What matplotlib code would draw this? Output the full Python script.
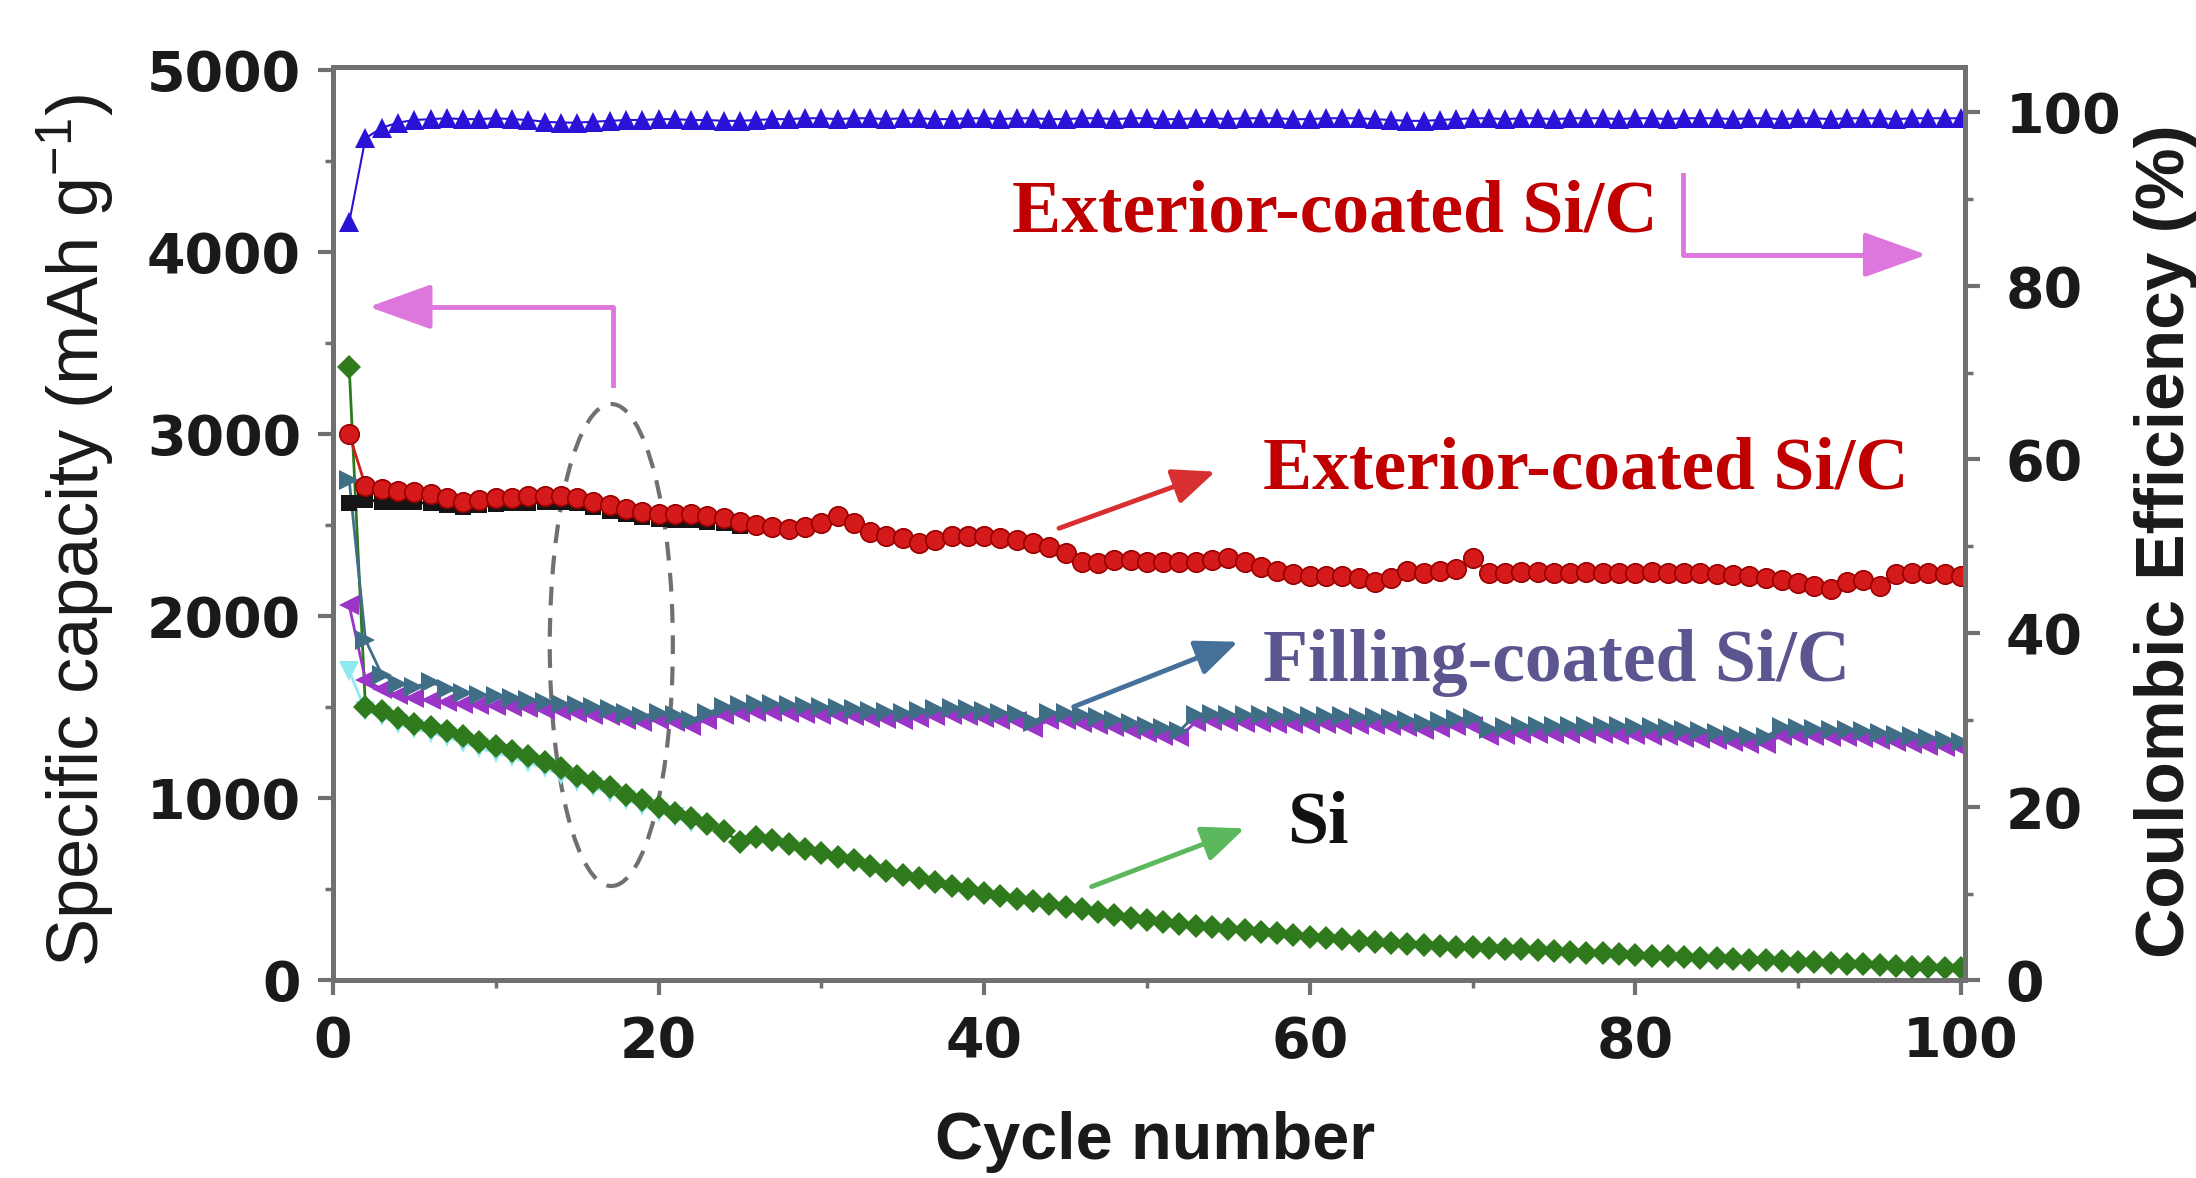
import numpy as np
import matplotlib
matplotlib.use("Agg")
from matplotlib import pyplot as plt
from matplotlib.patches import Ellipse
from matplotlib.ticker import MultipleLocator

plt.rcParams['font.family'] = 'DejaVu Sans'
plt.rcParams['mathtext.default'] = 'regular'

cycles = np.arange(1, 101)

# exterior-coated Si/C, red circles
ext_discharge = [3000, 2715, 2700, 2690, 2680, 2670, 2650, 2630, 2640, 2650,
                 2650, 2660, 2660, 2660, 2650, 2630, 2610, 2590, 2570, 2560,
                 2560, 2560, 2550, 2540, 2520, 2500, 2490, 2480, 2490, 2510,
                 2550, 2510, 2460, 2440, 2430, 2400, 2420, 2440, 2440, 2440,
                 2430, 2420, 2400, 2380, 2350, 2300, 2290, 2310, 2310, 2300,
                 2300, 2300, 2300, 2310, 2320, 2300, 2270, 2250, 2230, 2220,
                 2220, 2220, 2210, 2190, 2210, 2250, 2240, 2250, 2260, 2320,
                 2240, 2240, 2245, 2245, 2240, 2240, 2245, 2240, 2240, 2240,
                 2245, 2240, 2240, 2235, 2230, 2225, 2220, 2210, 2200, 2180,
                 2165, 2150, 2190, 2200, 2165, 2230, 2240, 2240, 2230, 2220]
# black squares, only visible over the first cycles
ext_charge = [2620, 2640, 2630, 2630, 2625, 2620, 2610, 2600, 2610, 2615,
              2620, 2620, 2625, 2625, 2620, 2600, 2580, 2560, 2545, 2535,
              2530, 2530, 2520, 2510, 2495]

# filling-coated Si/C
fill_a = [2750, 1870, 1680, 1630, 1610, 1640, 1600, 1580, 1570, 1560,
          1550, 1540, 1530, 1520, 1510, 1500, 1490, 1470, 1450, 1470,
          1460, 1430, 1470, 1500, 1515, 1520, 1520, 1510, 1505, 1500,
          1495, 1490, 1480, 1475, 1470, 1480, 1490, 1495, 1490, 1480,
          1470, 1465, 1420, 1470, 1470, 1455, 1445, 1430, 1415, 1400,
          1385, 1370, 1460, 1465, 1460, 1455, 1455, 1450, 1450, 1450,
          1450, 1450, 1448, 1448, 1440, 1430, 1415, 1425, 1435, 1440,
          1380, 1390, 1395, 1395, 1395, 1395, 1395, 1395, 1395, 1394,
          1390, 1385, 1375, 1368, 1360, 1350, 1340, 1338, 1390, 1385,
          1380, 1378, 1375, 1370, 1360, 1350, 1340, 1330, 1320, 1310]
fill_b = [2060, 1650, 1600, 1570, 1550, 1540, 1530, 1520, 1515, 1505,
          1500, 1495, 1485, 1480, 1470, 1460, 1450, 1430, 1420, 1430,
          1420, 1400, 1430, 1460, 1470, 1475, 1475, 1470, 1465, 1460,
          1455, 1450, 1440, 1435, 1430, 1440, 1450, 1455, 1450, 1440,
          1430, 1425, 1385, 1430, 1430, 1415, 1405, 1390, 1375, 1360,
          1345, 1335, 1420, 1425, 1420, 1415, 1415, 1410, 1410, 1410,
          1408, 1405, 1405, 1405, 1398, 1390, 1375, 1385, 1395, 1400,
          1345, 1350, 1355, 1355, 1355, 1355, 1352, 1352, 1350, 1350,
          1345, 1340, 1332, 1325, 1318, 1310, 1300, 1298, 1345, 1342,
          1340, 1338, 1335, 1330, 1320, 1310, 1300, 1290, 1282, 1275]

# bare Si
si_a = [3370, 1500, 1480, 1440, 1410, 1390, 1370, 1340, 1310, 1285,
        1260, 1230, 1200, 1165, 1120, 1090, 1060, 1020, 990, 950,
        920, 890, 860, 820, 760, 790, 770, 750, 720, 700,
        680, 660, 630, 600, 580, 560, 540, 520, 500, 480,
        465, 450, 435, 420, 405, 390, 375, 360, 345, 332,
        320, 310, 300, 292, 284, 276, 268, 260, 250, 240,
        232, 225, 218, 210, 204, 198, 194, 190, 186, 183,
        178, 174, 170, 165, 161, 156, 152, 148, 144, 139,
        135, 132, 128, 125, 121, 118, 114, 110, 106, 103,
        99, 96, 92, 88, 85, 80, 76, 72, 69, 66]
si_b = [1700, 1480, 1450, 1410, 1380, 1360, 1335, 1305, 1275, 1250,
        1225, 1195, 1165, 1130, 1090, 1060, 1030, 990, 960, 925,
        895, 865]

# coulombic efficiency (%)
efficiency = [87.3, 97.0, 98.2, 98.8, 99.1, 99.2, 99.3, 99.2, 99.2, 99.3,
              99.2, 99.1, 98.9, 98.8, 98.8, 98.9, 99.0, 99.1, 99.1, 99.2,
              99.2, 99.1, 99.1, 99.0, 99.0, 99.1, 99.2, 99.2, 99.3, 99.3,
              99.2, 99.3, 99.3, 99.2, 99.3, 99.3, 99.2, 99.2, 99.3, 99.3,
              99.2, 99.3, 99.3, 99.2, 99.2, 99.3, 99.3, 99.2, 99.3, 99.3,
              99.2, 99.2, 99.3, 99.3, 99.2, 99.3, 99.3, 99.3, 99.2, 99.2,
              99.3, 99.3, 99.3, 99.2, 99.1, 99.0, 99.0, 99.1, 99.2, 99.3,
              99.3, 99.2, 99.3, 99.3, 99.2, 99.3, 99.3, 99.3, 99.2, 99.3,
              99.3, 99.2, 99.3, 99.3, 99.3, 99.2, 99.3, 99.3, 99.2, 99.3,
              99.3, 99.2, 99.3, 99.3, 99.3, 99.2, 99.3, 99.3, 99.3, 99.3]

spine_c = '#707070'
pink = '#dd77dd'

fig = plt.figure(figsize=(21.96, 11.78), dpi=100)
ax = fig.add_axes([0.1516, 0.1677, 0.7432, 0.7754])
ax2 = ax.twinx()

ax.plot(cycles[:len(si_b)], si_b, marker='v', color='#8fe9f0', ms=14, lw=2, mew=0)
ax.plot(cycles, si_a, marker='D', color='#2e7a1c', ms=12, lw=2, mew=0)
ax.plot(cycles, fill_b, marker='<', color='#9a35c8', ms=15, lw=2, mew=0)
ax.plot(cycles, fill_a, marker='>', color='#3f6e86', ms=15, lw=2, mew=0)
ax.plot(cycles[:len(ext_charge)], ext_charge, marker='s', color='#151515', ms=12, lw=2, mew=0)
ax.plot(cycles, ext_discharge, marker='o', color='#d41a1a', ms=14, lw=2,
        mec='#9a0000', mew=1.2)
ax2.plot(cycles, efficiency, marker='^', color='#2a12d6', ms=14, lw=1.5, mew=0)

ax.set_xlim(0, 100.25)
ax.set_ylim(0, 5016)
ax2.set_ylim(0, 105.2)
ax.set_xticks(range(0, 101, 20))
ax.xaxis.set_minor_locator(MultipleLocator(10))
ax.set_yticks(range(0, 5001, 1000))
ax.yaxis.set_minor_locator(MultipleLocator(500))
ax2.set_yticks(range(0, 101, 20))
ax2.yaxis.set_minor_locator(MultipleLocator(10))

for a in (ax, ax2):
    for s in a.spines.values():
        s.set_color(spine_c)
        s.set_linewidth(3.5)
ax.tick_params(axis='both', which='major', direction='out', length=11, width=3,
               color=spine_c, labelsize=40, labelcolor='#1a1a1a')
ax.tick_params(axis='both', which='minor', direction='out', length=6, width=2.5,
               color=spine_c)
ax.tick_params(axis='x', which='major', pad=14)
ax.tick_params(axis='y', which='major', pad=12)
ax2.tick_params(axis='y', which='major', direction='out', length=11, width=3,
                color=spine_c, labelsize=40, labelcolor='#1a1a1a', pad=18)
ax2.tick_params(axis='y', which='minor', direction='out', length=6, width=2.5,
                color=spine_c)
for lab in ax.get_xticklabels() + ax.get_yticklabels() + ax2.get_yticklabels():
    lab.set_fontweight('bold')

fig.text(0.0346, 0.55, 'Specific capacity (mAh g$^{-1}$)', rotation=90,
         ha='center', va='center', fontsize=52, family='Liberation Sans', color='#1a1a1a')
fig.text(0.9863, 0.5407, 'Coulombic Efficiency (%)', rotation=90,
         ha='center', va='center', fontsize=50, fontweight='bold',
         family='Liberation Sans', color='#1a1a1a')
fig.text(0.526, 0.016, 'Cycle number', ha='center', va='baseline',
         fontsize=48, fontweight='bold', family='Liberation Sans', color='#1a1a1a')

# series labels
label_font = dict(fontsize=53, fontweight='bold', family='Liberation Serif', va='baseline')
ax.text(41.7, 4112, 'Exterior-coated Si/C', color='#c00000', **label_font)
ax.text(57.1, 2704, 'Exterior-coated Si/C', color='#c00000', **label_font)
ax.text(57.1, 1643, 'Filling-coated Si/C', color='#5b5590', **label_font)
ax.text(58.6, 760, 'Si', color='#111111', **label_font)

# pointer arrows
arrow_style = '-|>,head_length=2.6,head_width=1.1'
for tail, tip, c in [((44.6, 2483), (54.2, 2794), '#d83030'),
                     ((45.5, 1503), (55.6, 1860), '#45709a'),
                     ((46.6, 515), (56.0, 835), '#5cb85c')]:
    ax.annotate('', xy=tip, xytext=tail,
                arrowprops=dict(arrowstyle=arrow_style, color=c, lw=3.5,
                                mutation_scale=10, shrinkA=0, shrinkB=0))

# elbow arrows pointing to the axes
ax.plot([17.2, 17.2, 5.0], [3270, 3699, 3699], color=pink, lw=3.5)
ax.annotate('', xy=(2.2, 3699), xytext=(6.0, 3699),
            arrowprops=dict(arrowstyle='-|>,head_length=3.9,head_width=1.4',
                            color=pink, lw=3.5, mutation_scale=10, shrinkA=0, shrinkB=0))
ax.plot([82.9, 82.9, 95.5], [4423, 3985, 3985], color=pink, lw=3.5)
ax.annotate('', xy=(97.9, 3985), xytext=(94.0, 3985),
            arrowprops=dict(arrowstyle='-|>,head_length=3.9,head_width=1.4',
                            color=pink, lw=3.5, mutation_scale=10, shrinkA=0, shrinkB=0))

ax.add_patch(Ellipse((17.1, 1842), width=7.56, height=2647, fill=False,
                     edgecolor=spine_c, lw=3, ls=(0, (4.5, 3))))

fig.savefig('out.png', dpi=100)
